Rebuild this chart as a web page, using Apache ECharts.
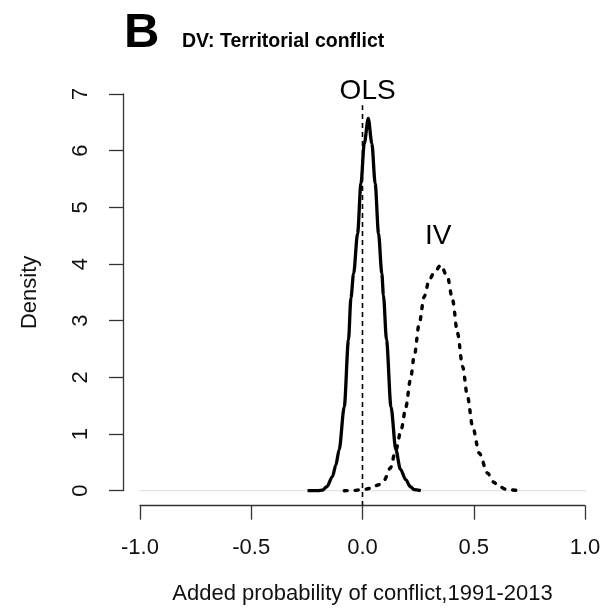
<!DOCTYPE html>
<html>
<head>
<meta charset="utf-8">
<script src="https://cdn.jsdelivr.net/npm/echarts@6/dist/echarts.min.js"></script>
<style>
  html, body { margin: 0; padding: 0; background: #fff; }
  #main { width: 610px; height: 616px; }
</style>
</head>
<body>
<div id="main"></div>
<script>
'use strict';
// density curves: [added probability, density]
var olsCurve = [
    [-0.247, 0], [-0.2, 0], [-0.18, 0.01], [-0.16, 0.07], [-0.135, 0.25],
    [-0.12, 0.45], [-0.105, 0.72], [-0.082, 1.48], [-0.063, 2.66], [-0.052, 3.4],
    [-0.04, 3.83], [-0.022, 4.54], [-0.007, 5.42], [0.008, 6.13], [0.026, 6.57],
    [0.042, 6.13], [0.057, 5.42], [0.072, 4.54], [0.087, 3.83], [0.094, 3.45],
    [0.108, 2.66], [0.128, 1.48], [0.15, 0.72], [0.17, 0.38], [0.195, 0.19],
    [0.215, 0.07], [0.232, 0.02], [0.262, 0]
];
var ivCurve = [
    [-0.082, 0], [-0.04, 0.005], [-0.007, 0.015], [0.038, 0.04], [0.07, 0.1],
    [0.098, 0.19], [0.125, 0.4], [0.15, 0.72], [0.175, 1.1], [0.195, 1.48],
    [0.215, 1.95], [0.232, 2.36], [0.255, 2.95], [0.277, 3.42], [0.3, 3.72],
    [0.322, 3.85], [0.352, 3.98], [0.382, 3.77], [0.405, 3.36], [0.427, 2.78],
    [0.45, 2.19], [0.472, 1.66], [0.495, 1.13], [0.525, 0.66], [0.562, 0.31],
    [0.59, 0.15], [0.614, 0.07], [0.65, 0.02], [0.704, 0]
];
var curveLabels = [
    ['OLS', 0.023, 7.05],
    ['IV', 0.34, 4.49]
];
var zeroLine = [[-1.08, 0], [1.08, 0]];
var refLine = [[0, -0.27], [0, 6.8]];
var xTicks = {min: -1, max: 1, step: 0.5};
var yTicks = {min: 0, max: 7, step: 1};

var font = 'Liberation Sans, Arial, Helvetica, sans-serif';
var ink = '#111';

var chart = echarts.init(document.getElementById('main'));
chart.setOption({
    animation: false,
    backgroundColor: '#fff',
    grid: {left: 140, right: 25, top: 94, bottom: 125.3},
    xAxis: {
        type: 'value',
        min: xTicks.min, max: xTicks.max, interval: xTicks.step,
        offset: 15,
        name: 'Added probability of conflict,1991-2013',
        nameLocation: 'middle', nameGap: 77,
        nameTextStyle: {fontFamily: font, fontSize: 22, color: ink},
        axisLine: {onZero: false, lineStyle: {color: '#333', width: 1.3}},
        axisTick: {length: 14, lineStyle: {color: '#333', width: 1.3}},
        axisLabel: {margin: 31, fontFamily: font, fontSize: 22, color: ink,
            formatter: function (v) { return v.toFixed(1); }},
        splitLine: {show: false}
    },
    yAxis: {
        type: 'value',
        min: yTicks.min, max: yTicks.max, interval: yTicks.step,
        offset: 17,
        name: 'Density',
        nameLocation: 'middle', nameGap: 82, nameRotate: 90,
        nameTextStyle: {fontFamily: font, fontSize: 22, color: ink},
        axisLine: {show: true, onZero: false, lineStyle: {color: '#333', width: 1.3}},
        axisTick: {show: true, length: 14, lineStyle: {color: '#333', width: 1.3}},
        axisLabel: {margin: 31, rotate: 90, fontFamily: font, fontSize: 22, color: ink},
        splitLine: {show: false}
    },
    series: [
        {type: 'line', data: zeroLine, clip: false, symbol: 'none', silent: true,
            lineStyle: {color: '#dedede', width: 1}},
        {type: 'line', data: refLine, clip: false, symbol: 'none', silent: true,
            lineStyle: {color: '#000', width: 1.6, type: [5, 4]}},
        {type: 'line', name: 'OLS', data: olsCurve, symbol: 'none', clip: false,
            smooth: 0.3, smoothMonotone: 'x',
            lineStyle: {color: '#000', width: 3.3}},
        {type: 'line', name: 'IV', data: ivCurve, symbol: 'none', clip: false,
            smooth: 0.3, smoothMonotone: 'x',
            lineStyle: {color: '#000', width: 3.4, type: [3, 8], cap: 'round'}}
    ]
});

// panel letter, subtitle and curve names
var texts = [
    {type: 'text', left: 124, top: 9,
        style: {text: 'B', fill: '#000', font: 'bold 49px ' + font}},
    {type: 'text', left: 182, top: 32,
        style: {text: 'DV: Territorial conflict', fill: '#000', font: 'bold 19.5px ' + font}}
];
curveLabels.forEach(function (d) {
    var p = chart.convertToPixel({gridIndex: 0}, [d[1], d[2]]);
    texts.push({type: 'text', x: p[0], y: p[1],
        style: {text: d[0], fill: '#000', font: '28px ' + font,
            textAlign: 'center', textVerticalAlign: 'middle'}});
});
chart.setOption({graphic: texts});
</script>
</body>
</html>
